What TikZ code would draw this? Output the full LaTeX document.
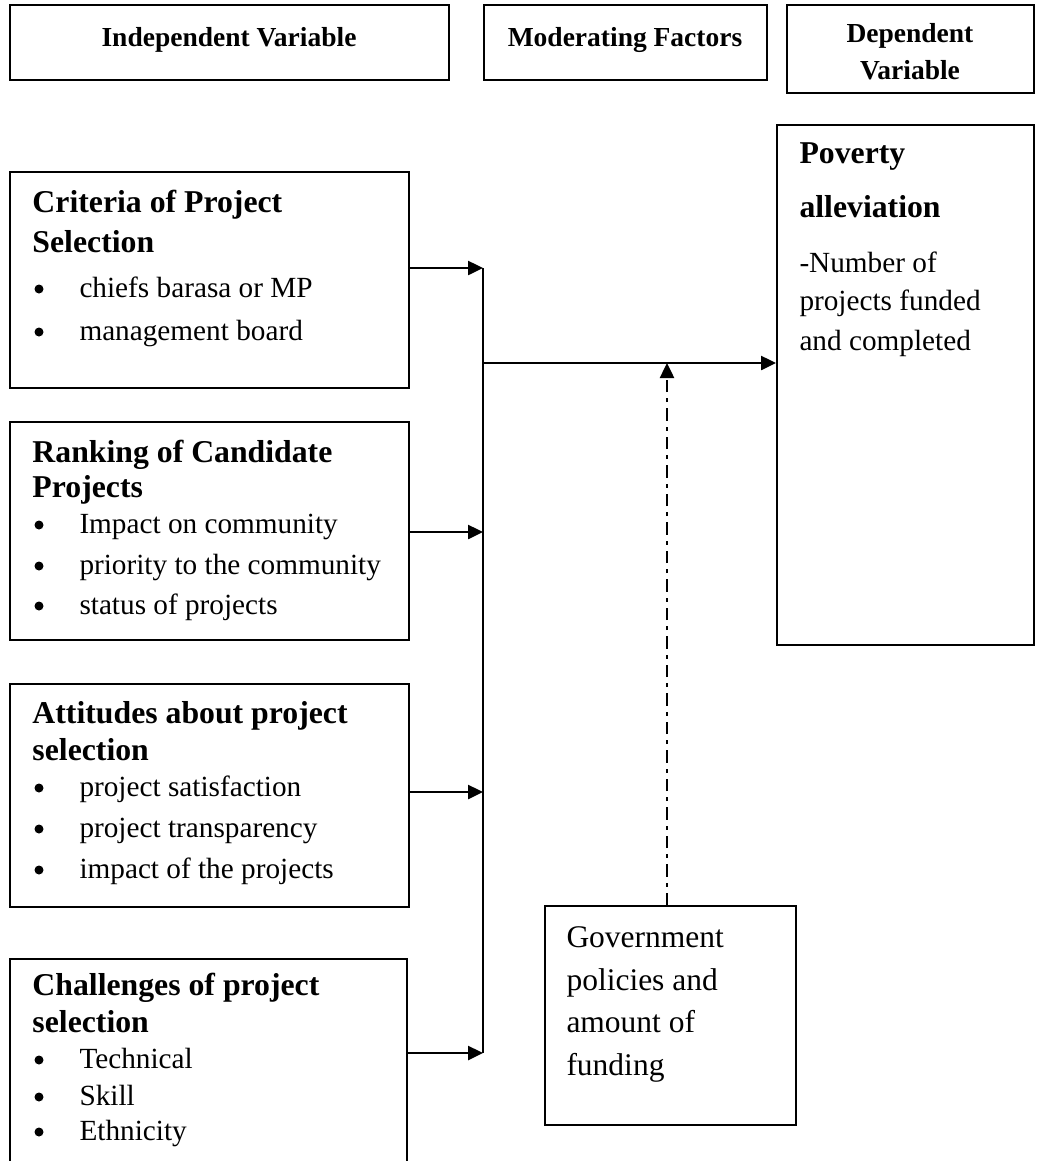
\documentclass[tikz,border=0pt]{standalone}
\usepackage{fontspec}
\setmainfont{Liberation Serif}
\usetikzlibrary{positioning,fit,arrows.meta}

\begin{document}
\begin{tikzpicture}[x=0.4pt,y=-0.4pt,>={Triangle[length=6pt,width=5.6pt]},
        box/.style={draw,line width=0.8pt,inner sep=0pt},
        hd/.style={inner sep=0pt,align=center,font=\fontsize{11}{14.8}\selectfont\bfseries},
        ttl/.style={anchor=base west,inner sep=0pt,font=\fontsize{12.7}{15}\selectfont\bfseries},
        itm/.style={anchor=base west,inner sep=0pt,font=\fontsize{11.7}{14}\selectfont},
        dot/.style={circle,fill,inner sep=0pt,minimum size=3.6pt},
        conn/.style={line width=1pt},
        mod/.style={conn,dash pattern=on 5pt off 2.4pt on 1.6pt off 2.4pt}]
    \useasboundingbox (0,0) rectangle (1036,1161);
    \clip (0,0) rectangle (1036,1161);
    %===========================================
    % header row
    \node[box,fit={(10,5) (449,80)}] (hIV) {};
    \node[box,fit={(484,5) (767,80)}] (hMF) {};
    \node[box,fit={(787,5) (1034,93)}] (hDV) {};
    \node[hd] (tIV) at (229,40) {Independent Variable};
    \node[hd] (tMF) at (625,40) {Moderating Factors};
    \node[hd] (tDV) at (910,52) {Dependent\\Variable};
    %===========================================
    % independent variables
    \node[box,fit={(10,172) (409,388)}] (crit) {};
    \node[ttl] (critT1) at (32,212) {Criteria of Project};
    \node[ttl] (critT2) at (32,252) {Selection};
    \foreach \t/\y [count=\i] in {chiefs barasa or MP/297,management board/340}{
        \node[dot] (critD\i) at (39,\y-8) {};
        \node[itm] (critI\i) at (79,\y) {\t};
    }
    \node[box,fit={(10,422) (409,640)}] (rank) {};
    \node[ttl] (rankT1) at (32,462) {Ranking of Candidate};
    \node[ttl] (rankT2) at (32,497) {Projects};
    \foreach \t/\y [count=\i] in {Impact on community/533,priority to the community/574,status of projects/614}{
        \node[dot] (rankD\i) at (39,\y-8) {};
        \node[itm] (rankI\i) at (79,\y) {\t};
    }
    \node[box,fit={(10,684) (409,907)}] (atti) {};
    \node[ttl] (attiT1) at (32,723) {Attitudes about project};
    \node[ttl] (attiT2) at (32,760) {selection};
    \foreach \t/\y [count=\i] in {project satisfaction/796,project transparency/837,impact of the projects/878}{
        \node[dot] (attiD\i) at (39,\y-8) {};
        \node[itm] (attiI\i) at (79,\y) {\t};
    }
    \node[box,fit={(10,959) (407,1180)}] (chal) {};
    \node[ttl] (chalT1) at (32,995) {Challenges of project};
    \node[ttl] (chalT2) at (32,1032) {selection};
    \foreach \t/\y [count=\i] in {Technical/1068,Skill/1105,Ethnicity/1140}{
        \node[dot] (chalD\i) at (39,\y-8) {};
        \node[itm] (chalI\i) at (79,\y) {\t};
    }
    %===========================================
    % dependent variable and moderating factor
    \node[box,fit={(777,125) (1034,645)}] (pov) {};
    \node[ttl] (povT1) at (799,163) {Poverty};
    \node[ttl] (povT2) at (799,217) {alleviation};
    \node[itm] (povI1) at (799,272) {-Number of};
    \node[itm] (povI2) at (799,310) {projects funded};
    \node[itm] (povI3) at (799,350) {and completed};
    \node[box,fit={(545,906) (796,1125)}] (gov) {};
    \foreach \t/\y [count=\i] in {Government/947,policies and/990,amount of/1032,funding/1075}{
        \node[itm,font=\fontsize{12.6}{15}\selectfont] (govI\i) at (566,\y) {\t};
    }
    %===========================================
    % connectors
    \coordinate (jA) at (483,268);
    \coordinate (jB) at (483,532);
    \coordinate (jC) at (483,792);
    \coordinate (jD) at (483,1053);
    \coordinate (jP) at (483,363);
    \coordinate (jG) at (667,363);
    \draw[conn,->] (crit.east |- jA) -- (jA);
    \draw[conn,->] (rank.east |- jB) -- (jB);
    \draw[conn,->] (atti.east |- jC) -- (jC);
    \draw[conn,->] (chal.east |- jD) -- (jD);
    \draw[conn] (jA) -- (jD);
    \draw[conn,->] (jP) -- (pov.west |- jP);
    \draw[mod,->] (jG |- gov.north) -- (jG);
\end{tikzpicture}
\end{document}
